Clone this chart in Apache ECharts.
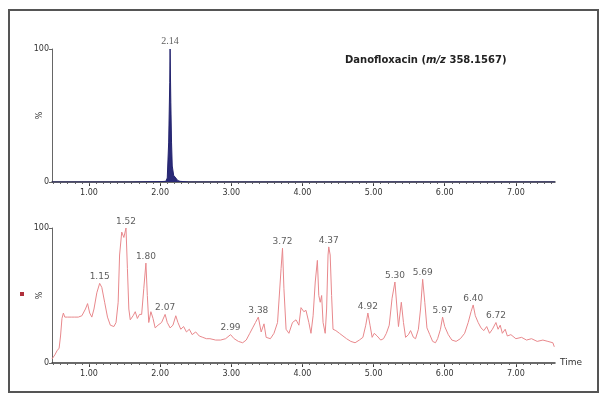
<!DOCTYPE html>
<html>
<head>
<meta charset="utf-8">
<script src="https://cdn.jsdelivr.net/npm/echarts@6/dist/echarts.min.js"></script>
<style>
  html, body { margin: 0; padding: 0; background: #fff; }
  #chart { width: 606px; height: 396px; }
</style>
</head>
<body>
<div id="chart"></div>
<script>
// top trace: extracted ion chromatogram (m/z 358.1567)
const topTimes = [0.48, 1.00, 1.60, 2.00, 2.08, 2.09, 2.10, 2.12, 2.135, 2.14, 2.15, 2.16, 2.17, 2.19, 2.22, 2.25, 2.28, 2.40, 3.00, 4.00, 5.00, 6.00, 7.00, 7.55];
const topVals  = [0,    0,    0,    0.3,  0.5,  1,    3,    30,   75,    100,  60,   30,   12,   5,    3,    1,    0.5,  0,    0,    0,    0,    0,    0,    0];
const topPeakLabels = ['2.14'];

// bottom trace: total ion chromatogram
const lowTimes = [
  0.48, 0.52, 0.55, 0.58, 0.60, 0.62, 0.64, 0.66, 0.70, 0.75, 0.80, 0.85, 0.90, 0.95, 0.98,
  1.01, 1.04, 1.07, 1.11, 1.15, 1.18, 1.22, 1.26, 1.30, 1.35, 1.38, 1.41, 1.43, 1.46, 1.49,
  1.52, 1.54, 1.56, 1.58, 1.62, 1.65, 1.68, 1.71, 1.74, 1.77, 1.80, 1.82, 1.84, 1.87, 1.90,
  1.93, 1.97, 2.02, 2.07, 2.10, 2.14, 2.18, 2.22, 2.25, 2.29, 2.33, 2.37, 2.41, 2.45, 2.50,
  2.55, 2.60, 2.65, 2.70, 2.78, 2.85, 2.92, 2.99, 3.04, 3.10, 3.16, 3.21, 3.26, 3.30, 3.34,
  3.38, 3.42, 3.46, 3.49, 3.55, 3.60, 3.65, 3.70, 3.72, 3.74, 3.77, 3.81, 3.86, 3.91, 3.95,
  3.98, 4.02, 4.05, 4.09, 4.12, 4.15, 4.18, 4.21, 4.23, 4.25, 4.27, 4.29, 4.32, 4.34, 4.36,
  4.37, 4.39, 4.41, 4.43, 4.47, 4.52, 4.57, 4.62, 4.68, 4.74, 4.80, 4.85, 4.89, 4.92, 4.95,
  4.98, 5.01, 5.05, 5.10, 5.14, 5.18, 5.22, 5.26, 5.30, 5.33, 5.35, 5.39, 5.42, 5.45, 5.49,
  5.52, 5.56, 5.59, 5.63, 5.66, 5.69, 5.72, 5.75, 5.79, 5.83, 5.87, 5.90, 5.94, 5.97, 6.00,
  6.05, 6.10, 6.16, 6.22, 6.28, 6.33, 6.37, 6.40, 6.43, 6.47, 6.51, 6.55, 6.59, 6.63, 6.67,
  6.72, 6.75, 6.78, 6.81, 6.85, 6.88, 6.93, 7.00, 7.08, 7.15, 7.22, 7.30, 7.38, 7.45, 7.52,
  7.54
];
const lowVals = [
  3, 6, 9, 11, 20, 33, 37, 34, 34, 34, 34, 34, 35, 40, 44,
  37, 34, 40, 52, 59, 56, 45, 34, 28, 27, 30, 45, 80, 97, 93,
  100, 70, 40, 32, 35, 38, 33, 36, 36, 55, 74, 50, 30, 38, 33,
  26, 28, 30, 36, 30, 26, 28, 35, 30, 25, 27, 23, 25, 21, 23,
  20, 19, 18, 18, 17, 17, 18, 21, 18, 16, 15, 17, 22, 26, 30,
  34, 23, 29, 19, 18, 22, 30, 70, 85, 55, 25, 22, 30, 32, 28,
  41, 38, 39, 30, 22, 35, 60, 76, 50, 45, 50, 30, 22, 40, 80,
  86, 80, 50, 25, 24, 22, 20, 18, 16, 15, 17, 19, 28, 37, 28,
  19, 22, 20, 17, 18, 22, 28, 48, 60, 40, 27, 45, 30, 19, 21,
  24, 19, 18, 25, 40, 62, 45, 26, 21, 16, 15, 18, 25, 34, 27,
  21, 17, 16, 18, 22, 30, 38, 43, 35, 30, 26, 24, 27, 22, 25,
  30, 25, 28, 22, 25, 20, 21, 18, 19, 17, 18, 16, 17, 16, 15,
  12
];
const lowPeakLabels = ['1.15', '1.52', '1.80', '2.07', '2.99', '3.38', '3.72', '4.37', '4.92', '5.30', '5.69', '5.97', '6.40', '6.72'];

const majorTicks = [1, 2, 3, 4, 5, 6, 7];
const minorTicks = [];
for (let t = 5; t <= 75; t++) minorTicks.push(t / 10);

const xMin = 0.48, xMax = 7.55;

function pairs(times, vals) {
  return times.map((t, i) => [t, vals[i]]);
}

function peakPoints(times, vals, labels) {
  return labels.map(l => {
    const t = parseFloat(l);
    let best = 0;
    times.forEach((v, i) => { if (Math.abs(v - t) < Math.abs(times[best] - t)) best = i; });
    return { value: [times[best], vals[best]], label: { formatter: l } };
  });
}

const axisColor = '#3a3a3a';
const textColor = '#333';

function xAxes(gridIndex, withName) {
  return [{
    type: 'value',
    gridIndex: gridIndex,
    position: 'bottom',
    min: xMin,
    max: xMax,
    name: withName ? 'Time' : '',
    nameLocation: 'end',
    nameGap: 5,
    nameTextStyle: { color: textColor, fontSize: 9, fontFamily: 'DejaVu Sans' },
    axisLine: { lineStyle: { color: axisColor, width: 1.5 } },
    axisTick: { customValues: majorTicks, length: 4, lineStyle: { color: axisColor } },
    axisLabel: {
      customValues: majorTicks,
      formatter: v => v.toFixed(2),
      color: textColor,
      fontSize: 8,
      fontFamily: 'DejaVu Sans',
      margin: 7,
    },
    splitLine: { show: false },
  }, {
    type: 'value',
    gridIndex: gridIndex,
    position: 'bottom',
    min: xMin,
    max: xMax,
    axisLine: { show: false },
    axisTick: { customValues: minorTicks, length: 2, lineStyle: { color: '#666' } },
    axisLabel: { show: false },
    splitLine: { show: false },
  }];
}

function yAxis(gridIndex) {
  return {
    type: 'value',
    gridIndex: gridIndex,
    min: 0,
    max: 100,
    name: '%',
    nameLocation: 'middle',
    nameRotate: 90,
    nameGap: 8,
    nameMoveOverlap: false,
    nameTextStyle: { color: textColor, fontSize: 8, fontFamily: 'DejaVu Sans' },
    axisLine: { show: true, lineStyle: { color: '#666', width: 1 } },
    axisTick: { show: true, customValues: [0, 100], length: 3, lineStyle: { color: '#666' } },
    axisLabel: {
      customValues: [0, 100],
      color: textColor,
      fontSize: 8,
      fontFamily: 'DejaVu Sans',
      margin: 3,
    },
    splitLine: { show: false },
  };
}

const myChart = echarts.init(document.getElementById('chart'), null, { renderer: 'canvas' });

const option = {
  animation: false,
  backgroundColor: '#fff',
  title: {
    text: '{a|Danofloxacin (}{b|m/z}{a| 358.1567)}',
    left: 340,
    top: 50,
    textStyle: {
      rich: {
        a: { fontSize: 10, fontWeight: 'bold', fontFamily: 'DejaVu Sans', color: '#222' },
        b: { fontSize: 10, fontStyle: 'italic', fontFamily: 'DejaVu Sans', color: '#222' },
      },
    },
  },
  grid: [
    { left: 52, right: 51, top: 49, height: 133 },
    { left: 52, right: 51, top: 228, height: 135 },
  ],
  xAxis: [...xAxes(0, false), ...xAxes(1, true)],
  yAxis: [yAxis(0), yAxis(1)],
  series: [{
    type: 'line',
    xAxisIndex: 0,
    yAxisIndex: 0,
    data: pairs(topTimes, topVals),
    showSymbol: false,
    symbol: 'none',
    lineStyle: { color: '#24246e', width: 1 },
    areaStyle: { color: '#2a2a78', opacity: 1 },
  }, {
    type: 'scatter',
    xAxisIndex: 0,
    yAxisIndex: 0,
    data: peakPoints(topTimes, topVals, topPeakLabels),
    symbolSize: 0,
    label: {
      show: true,
      position: 'top',
      distance: 3,
      color: textColor,
      fontSize: 10,
      fontFamily: 'Liberation Serif',
    },
  }, {
    type: 'line',
    xAxisIndex: 2,
    yAxisIndex: 1,
    data: pairs(lowTimes, lowVals),
    showSymbol: false,
    symbol: 'none',
    lineStyle: { color: '#e8888c', width: 1 },
  }, {
    type: 'scatter',
    xAxisIndex: 2,
    yAxisIndex: 1,
    data: peakPoints(lowTimes, lowVals, lowPeakLabels),
    symbolSize: 0,
    label: {
      show: true,
      position: 'top',
      distance: 2,
      color: textColor,
      fontSize: 9,
      fontFamily: 'DejaVu Sans',
    },
  }],
  graphic: [{
    type: 'rect',
    shape: { x: 9, y: 10, width: 589, height: 382 },
    style: { fill: 'none', stroke: '#555', lineWidth: 2 },
  }, {
    type: 'rect',
    shape: { x: 20, y: 292, width: 4, height: 4 },
    style: { fill: '#b0303c' },
  }],
};

myChart.setOption(option);
</script>
</body>
</html>
